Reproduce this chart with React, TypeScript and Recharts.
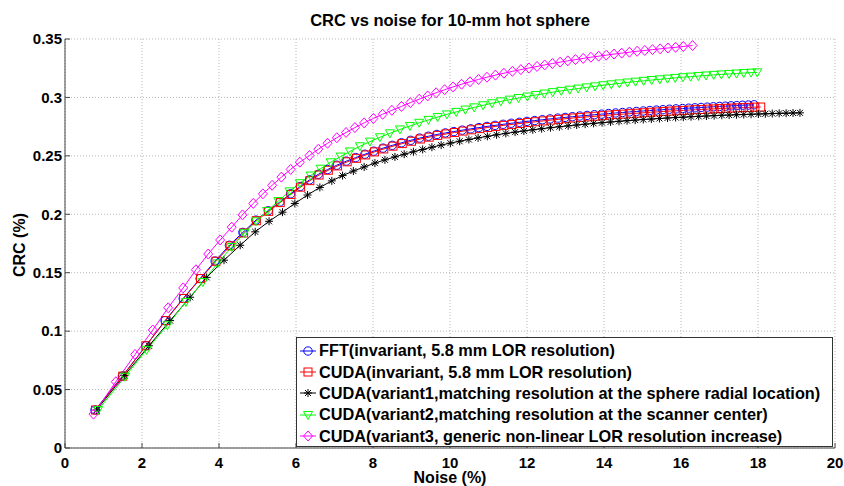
import { LineChart, Line, XAxis, YAxis, CartesianGrid } from 'recharts'

type Pt = [number, number]

// [noise %, CRC]
const fftPts: Pt[] = [
  [0.78, 0.0325], [1.49, 0.0615], [2.10, 0.0875], [2.60, 0.109], [3.07, 0.128], [3.51, 0.145], [3.90, 0.160],
  [4.27, 0.1735], [4.62, 0.1845], [4.96, 0.195], [5.28, 0.203], [5.58, 0.2105], [5.86, 0.2175], [6.11, 0.2238],
  [6.35, 0.2294], [6.58, 0.2342], [6.82, 0.2383], [7.06, 0.242], [7.31, 0.2455], [7.55, 0.2485], [7.79, 0.2514],
  [8.02, 0.254], [8.26, 0.2566], [8.50, 0.259], [8.74, 0.2612], [8.98, 0.2633], [9.21, 0.2652], [9.44, 0.2668],
  [9.66, 0.2683], [9.88, 0.2696], [10.10, 0.2708], [10.32, 0.272], [10.54, 0.2731], [10.75, 0.2742], [10.96, 0.2752],
  [11.17, 0.2761], [11.38, 0.277], [11.59, 0.2779], [11.80, 0.2787], [12.00, 0.2795], [12.20, 0.2802], [12.40, 0.2809],
  [12.60, 0.2816], [12.80, 0.2823], [12.99, 0.2829], [13.18, 0.2835], [13.37, 0.2841], [13.56, 0.2846], [13.75, 0.2852],
  [13.94, 0.2857], [14.12, 0.2862], [14.30, 0.2867], [14.48, 0.2871], [14.66, 0.2876], [14.84, 0.288], [15.02, 0.2884],
  [15.19, 0.2888], [15.36, 0.2892], [15.53, 0.2895], [15.70, 0.2899], [15.87, 0.2902], [16.04, 0.2905], [16.20, 0.2908],
  [16.36, 0.2911], [16.52, 0.2914], [16.68, 0.2917], [16.84, 0.292], [17.00, 0.2923], [17.15, 0.2925], [17.30, 0.2928],
  [17.45, 0.293], [17.60, 0.2933], [17.75, 0.2935], [17.90, 0.2937],
]

const cudaPts: Pt[] = [
  [0.79, 0.0325], [1.50, 0.0615], [2.10, 0.0875], [2.61, 0.109], [3.08, 0.128], [3.52, 0.145], [3.92, 0.1598],
  [4.29, 0.173], [4.64, 0.184], [4.97, 0.1945], [5.29, 0.2025], [5.59, 0.21], [5.87, 0.217], [6.12, 0.2232],
  [6.36, 0.2288], [6.60, 0.2336], [6.84, 0.2377], [7.08, 0.2414], [7.33, 0.2449], [7.57, 0.2479], [7.81, 0.2508],
  [8.04, 0.2534], [8.28, 0.2559], [8.52, 0.2583], [8.76, 0.2605], [9.00, 0.2625], [9.23, 0.2644], [9.46, 0.266],
  [9.68, 0.2675], [9.90, 0.2688], [10.12, 0.27], [10.34, 0.2712], [10.56, 0.2723], [10.77, 0.2733], [10.98, 0.2743],
  [11.19, 0.2752], [11.40, 0.2761], [11.61, 0.2769], [11.82, 0.2777], [12.02, 0.2785], [12.22, 0.2792], [12.42, 0.2799],
  [12.62, 0.2806], [12.82, 0.2812], [13.01, 0.2818], [13.20, 0.2824], [13.39, 0.2829], [13.58, 0.2834], [13.77, 0.2839],
  [13.96, 0.2844], [14.14, 0.2849], [14.32, 0.2853], [14.50, 0.2857], [14.68, 0.2861], [14.86, 0.2865], [15.04, 0.2869],
  [15.21, 0.2873], [15.38, 0.2876], [15.55, 0.288], [15.72, 0.2883], [15.89, 0.2886], [16.06, 0.2889], [16.22, 0.2892],
  [16.38, 0.2895], [16.54, 0.2897], [16.70, 0.29], [16.86, 0.2902], [17.02, 0.2905], [17.17, 0.2907], [17.32, 0.2909],
  [17.47, 0.2911], [17.62, 0.2913], [17.77, 0.2915], [17.92, 0.2917], [18.07, 0.2918],
]

const variant1Pts: Pt[] = [
  [0.82, 0.0325], [1.54, 0.062], [2.18, 0.0875], [2.73, 0.109], [3.25, 0.129], [3.68, 0.146], [4.13, 0.1607],
  [4.55, 0.1735], [4.94, 0.185], [5.30, 0.194], [5.65, 0.2018], [5.97, 0.2093], [6.30, 0.2165], [6.62, 0.223],
  [6.93, 0.2286], [7.21, 0.2331], [7.49, 0.237], [7.77, 0.2405], [8.05, 0.2438], [8.31, 0.2466], [8.57, 0.2491],
  [8.81, 0.2514], [9.05, 0.2535], [9.29, 0.2555], [9.53, 0.2574], [9.77, 0.2592], [10.01, 0.2609], [10.25, 0.2625],
  [10.49, 0.264], [10.73, 0.2654], [10.97, 0.2667], [11.21, 0.268], [11.45, 0.2692], [11.69, 0.2703], [11.92, 0.2713],
  [12.15, 0.2723], [12.38, 0.2732], [12.61, 0.2741], [12.84, 0.2749], [13.07, 0.2757], [13.29, 0.2764], [13.51, 0.2771],
  [13.73, 0.2778], [13.95, 0.2784], [14.17, 0.279], [14.39, 0.2796], [14.60, 0.2801], [14.81, 0.2806], [15.02, 0.2811],
  [15.23, 0.2815], [15.44, 0.282], [15.65, 0.2824], [15.86, 0.2828], [16.06, 0.2831], [16.26, 0.2835], [16.46, 0.2838],
  [16.66, 0.2841], [16.86, 0.2844], [17.06, 0.2847], [17.25, 0.2849], [17.44, 0.2852], [17.63, 0.2854], [17.82, 0.2856],
  [18.01, 0.2858], [18.19, 0.286], [18.37, 0.2862], [18.55, 0.2864], [18.73, 0.2865], [18.91, 0.2867], [19.09, 0.2868],
]

const variant2Pts: Pt[] = [
  [0.86, 0.0325], [1.56, 0.061], [2.12, 0.084], [2.66, 0.105], [3.14, 0.125], [3.58, 0.142], [3.96, 0.158],
  [4.33, 0.172], [4.66, 0.1838], [4.96, 0.194], [5.25, 0.2028], [5.54, 0.2113], [5.83, 0.2196], [6.10, 0.2266],
  [6.38, 0.2332], [6.64, 0.239], [6.90, 0.2445], [7.16, 0.2494], [7.40, 0.2538], [7.66, 0.2582], [7.92, 0.2622],
  [8.18, 0.2659], [8.44, 0.2693], [8.70, 0.2726], [8.96, 0.2756], [9.20, 0.2783], [9.44, 0.2808], [9.68, 0.2832],
  [9.92, 0.2855], [10.16, 0.2876], [10.40, 0.2896], [10.63, 0.2915], [10.86, 0.2933], [11.09, 0.295], [11.32, 0.2966],
  [11.55, 0.2981], [11.78, 0.2995], [12.01, 0.3008], [12.23, 0.3021], [12.45, 0.3033], [12.67, 0.3045], [12.89, 0.3056],
  [13.11, 0.3066], [13.33, 0.3076], [13.55, 0.3086], [13.77, 0.3095], [13.98, 0.3104], [14.19, 0.3112], [14.40, 0.312],
  [14.61, 0.3128], [14.82, 0.3135], [15.03, 0.3142], [15.24, 0.3149], [15.45, 0.3155], [15.65, 0.3161], [15.85, 0.3167],
  [16.05, 0.3173], [16.25, 0.3178], [16.45, 0.3183], [16.65, 0.3188], [16.85, 0.3193], [17.05, 0.3197], [17.25, 0.3201],
  [17.44, 0.3205], [17.63, 0.3209], [17.82, 0.3212], [17.98, 0.3215],
]

const variant3Pts: Pt[] = [
  [0.74, 0.029], [1.32, 0.0567], [1.82, 0.08], [2.28, 0.101], [2.68, 0.12], [3.07, 0.137], [3.40, 0.1525],
  [3.72, 0.166], [4.03, 0.178], [4.33, 0.189], [4.61, 0.1995], [4.89, 0.2093], [5.14, 0.2175], [5.38, 0.2248],
  [5.62, 0.2318], [5.86, 0.2384], [6.10, 0.2446], [6.35, 0.2503], [6.58, 0.2557], [6.82, 0.2608], [7.06, 0.2655],
  [7.30, 0.27], [7.53, 0.2742], [7.77, 0.2782], [8.01, 0.282], [8.25, 0.2856], [8.49, 0.289], [8.74, 0.2923],
  [8.97, 0.2955], [9.20, 0.2985], [9.42, 0.3013], [9.64, 0.304], [9.86, 0.3066], [10.08, 0.309], [10.30, 0.3113],
  [10.52, 0.3134], [10.74, 0.3154], [10.96, 0.3173], [11.18, 0.3191], [11.40, 0.3207], [11.62, 0.3223], [11.84, 0.3238],
  [12.05, 0.3252], [12.26, 0.3265], [12.46, 0.3278], [12.66, 0.329], [12.86, 0.3302], [13.06, 0.3313], [13.26, 0.3324],
  [13.46, 0.3334], [13.66, 0.3344], [13.86, 0.3353], [14.06, 0.3362], [14.26, 0.3371], [14.46, 0.3379], [14.66, 0.3387],
  [14.86, 0.3395], [15.06, 0.3402], [15.26, 0.3409], [15.46, 0.3416], [15.66, 0.3423], [15.86, 0.3429], [16.06, 0.3436],
  [16.30, 0.3444],
]

const seriesNames = [
  'FFT(invariant, 5.8 mm LOR resolution)',
  'CUDA(invariant, 5.8 mm LOR resolution)',
  'CUDA(variant1,matching resolution at the sphere radial location)',
  'CUDA(variant2,matching resolution at the scanner center)',
  'CUDA(variant3, generic non-linear LOR resolution increase)',
]

const xTicks = [0, 2, 4, 6, 8, 10, 12, 14, 16, 18, 20]
const yTicks = [0, 0.05, 0.1, 0.15, 0.2, 0.25, 0.3, 0.35]

type Shape = 'circle' | 'square' | 'star' | 'tri' | 'diamond'

const FONT = '"Liberation Sans", Arial, Helvetica, sans-serif'

const series: { name: string; pts: Pt[]; color: string; shape: Shape }[] = [
  { name: seriesNames[0], pts: fftPts, color: '#0000ff', shape: 'circle' },
  { name: seriesNames[1], pts: cudaPts, color: '#ff0000', shape: 'square' },
  { name: seriesNames[2], pts: variant1Pts, color: '#000000', shape: 'star' },
  { name: seriesNames[3], pts: variant2Pts, color: '#00ff00', shape: 'tri' },
  { name: seriesNames[4], pts: variant3Pts, color: '#ff00ff', shape: 'diamond' },
]

function Marker({ cx, cy, shape, color }: { cx: number; cy: number; shape: Shape; color: string }) {
  if (cx == null || cy == null) return null
  const common = { fill: 'none', stroke: color, strokeWidth: 1 }
  switch (shape) {
    case 'circle':
      return <circle cx={cx} cy={cy} r={4.2} {...common} />
    case 'square':
      return <rect x={cx - 4} y={cy - 4} width={8} height={8} {...common} />
    case 'star':
      return (
        <path
          d={`M${cx - 4},${cy}H${cx + 4}M${cx},${cy - 4}V${cy + 4}M${cx - 3},${cy - 3}L${cx + 3},${cy + 3}M${cx - 3},${cy + 3}L${cx + 3},${cy - 3}`}
          {...common}
        />
      )
    case 'tri':
      return <path d={`M${cx - 4.5},${cy - 3.5}L${cx + 4.5},${cy - 3.5}L${cx},${cy + 4.5}Z`} {...common} />
    default:
      return <path d={`M${cx},${cy - 5}L${cx + 4.5},${cy}L${cx},${cy + 5}L${cx - 4.5},${cy}Z`} {...common} />
  }
}

function LegendBox() {
  return (
    <div
      style={{
        position: 'absolute', left: 296, top: 337, width: 537, height: 110, boxSizing: 'border-box',
        border: '1px solid #333', background: '#fff', padding: '2px 0 0 3px',
        fontFamily: FONT, fontWeight: 'bold', fontSize: 16.3, color: '#000',
      }}
    >
      {series.map(s => (
        <div key={s.name} style={{ display: 'flex', alignItems: 'center', height: 21.4, whiteSpace: 'nowrap' }}>
          <svg width={19} height={12} style={{ flex: 'none' }}>
            <line x1={0} y1={6} x2={16} y2={6} stroke={s.color} strokeWidth={1} />
            <Marker cx={8} cy={6} shape={s.shape} color={s.color} />
          </svg>
          <span>{s.name}</span>
        </div>
      ))}
    </div>
  )
}

export default function App() {
  const tickStyle = { fontSize: 15, fontWeight: 'bold', fill: '#000', fontFamily: FONT }
  return (
    <div style={{ position: 'absolute', left: 0, top: 0, width: 844, height: 486, background: '#fff' }}>
      <LineChart width={844} height={486} margin={{ top: 39, right: 9, bottom: 0, left: 0 }}>
        <CartesianGrid stroke="#b8b8b8" strokeDasharray="1 2" />
        <XAxis
          type="number" dataKey="x" domain={[0, 20]} ticks={xTicks} interval={0} allowDataOverflow
          height={38} tickSize={-5} tickMargin={14} stroke="#444" tick={tickStyle}
          label={{ value: 'Noise (%)', position: 'insideBottom', offset: 3, fontSize: 16, fontWeight: 'bold', fill: '#000', fontFamily: FONT }}
        />
        <XAxis
          xAxisId="top" orientation="top" type="number" domain={[0, 20]} ticks={xTicks} interval={0}
          height={0} tickSize={-5} stroke="#444" tickFormatter={() => ''}
        />
        <YAxis
          type="number" domain={[0, 0.35]} ticks={yTicks} interval={0} allowDataOverflow
          width={65} tickSize={-5} tickMargin={8} stroke="#444" tick={tickStyle}
        />
        <YAxis
          yAxisId="right" orientation="right" type="number" domain={[0, 0.35]} ticks={yTicks} interval={0}
          width={0} tickSize={-5} stroke="#444" tickFormatter={() => ''}
        />
        {series.map(s => (
          <Line
            key={s.name}
            name={s.name}
            data={s.pts.map(([x, y]) => ({ x, y }))}
            dataKey="y"
            type="linear"
            stroke={s.color}
            strokeWidth={1}
            isAnimationActive={false}
            dot={(p: any) => <Marker key={`${s.shape}-${p.index}`} cx={p.cx} cy={p.cy} shape={s.shape} color={s.color} />}
            activeDot={false}
          />
        ))}
      </LineChart>
      <svg width={844} height={486} style={{ position: 'absolute', left: 0, top: 0, pointerEvents: 'none' }}>
        <text x={450} y={26} textAnchor="middle" fontFamily={FONT} fontWeight="bold" fontSize={16.5} fill="#000">
          CRC vs noise for 10-mm hot sphere
        </text>
        <text
          x={25} y={245} textAnchor="middle" transform="rotate(-90, 25, 245)"
          fontFamily={FONT} fontWeight="bold" fontSize={16} fill="#000"
        >
          CRC (%)
        </text>
      </svg>
      <LegendBox />
    </div>
  )
}
